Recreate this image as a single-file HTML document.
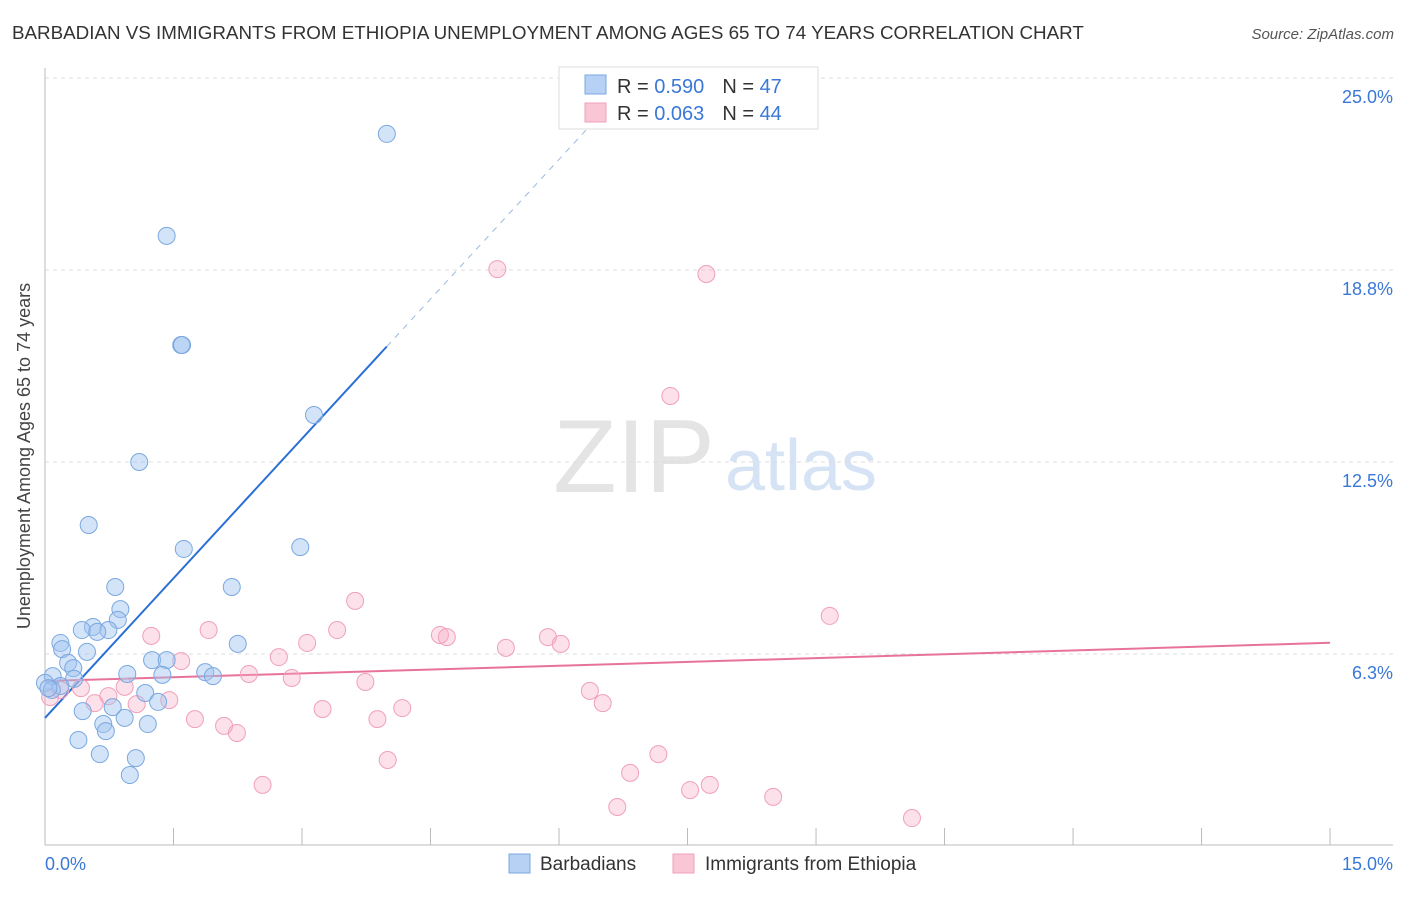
<!DOCTYPE html>
<html><head><meta charset="utf-8"><style>
body{margin:0;background:#fff;font-family:"Liberation Sans",sans-serif;}
svg text{font-family:"Liberation Sans",sans-serif;}
</style></head><body>
<svg id="chart" width="1406" height="892" xmlns="http://www.w3.org/2000/svg">
<text x="12" y="39" font-size="18.8" fill="#333">BARBADIAN VS IMMIGRANTS FROM ETHIOPIA UNEMPLOYMENT AMONG AGES 65 TO 74 YEARS CORRELATION CHART</text>
<text x="1394" y="39" font-size="15" fill="#555" font-style="italic" text-anchor="end">Source: ZipAtlas.com</text>
<text x="30" y="456" font-size="18" fill="#444" text-anchor="middle" transform="rotate(-90 30 456)">Unemployment Among Ages 65 to 74 years</text>
<g><text x="634" y="492" font-size="104" fill="#e4e4e4" font-family="Liberation Serif" text-anchor="middle">ZIP</text><text x="801" y="490" font-size="72" fill="#d6e3f5" text-anchor="middle">atlas</text></g>
<g id="grid"></g><g id="axes"></g><g id="lines"></g><g id="pts"></g>
<g>
<rect x="559" y="67" width="259" height="62" fill="#fff" stroke="#ddd"/>
<rect x="585" y="75" width="21" height="19" fill="#b7d1f5" stroke="#7aa8e0"/>
<rect x="585" y="103" width="21" height="19" fill="#f9c6d5" stroke="#f0a0b8"/>
<text x="617" y="93" font-size="20" fill="#333">R = <tspan fill="#3a78d8">0.590</tspan><tspan dx="18">N = </tspan><tspan fill="#3a78d8">47</tspan></text>
<text x="617" y="120" font-size="20" fill="#333">R = <tspan fill="#3a78d8">0.063</tspan><tspan dx="18">N = </tspan><tspan fill="#3a78d8">44</tspan></text>
</g>
<g>
<rect x="509" y="854" width="21" height="19" fill="#b7d1f5" stroke="#7aa8e0"/>
<text x="540" y="870" font-size="19" fill="#333">Barbadians</text>
<rect x="673" y="854" width="21" height="19" fill="#f9c6d5" stroke="#f0a0b8"/>
<text x="705" y="870" font-size="19" fill="#333">Immigrants from Ethiopia</text>
</g>
</svg>
<script>
const yTicks=[25,18.75,12.5,6.25];
const yTickLabels=["25.0%","18.8%","12.5%","6.3%"];
const xTickValues=[0,1.5,3,4.5,6,7.5,9,10.5,12,13.5,15];
const xEndLabels=["0.0%","15.0%"];
const blueX=[3.99,1.42,1.59,1.60,3.14,1.10,0.51,1.62,2.98,0.82,2.18,0.88,0.56,0.85,0.74,0.43,0.61,0.18,2.25,0.20,0.49,0.27,1.25,1.42,0.33,1.87,1.96,0.96,1.37,0.09,0.34,0,0.18,0.08,1.17,0.79,1.32,0.44,0.93,0.68,1.20,0.71,0.39,1.06,0.64,0.99,0.04];
const blueY=[23.18,19.86,16.31,16.31,14.03,12.5,10.45,9.67,9.73,8.43,8.43,7.71,7.13,7.36,7.03,7.03,6.97,6.61,6.58,6.41,6.32,5.96,6.05,6.05,5.79,5.66,5.53,5.60,5.57,5.53,5.44,5.31,5.21,5.08,4.98,4.52,4.69,4.39,4.17,3.97,3.97,3.74,3.45,2.86,2.99,2.31,5.14];
const pinkX=[5.28,7.72,7.30,3.62,9.16,1.24,1.91,3.41,4.61,4.69,5.87,6.02,3.06,5.38,2.73,1.59,2.38,2.88,3.74,6.36,0.42,0.93,0.74,1.45,1.07,0.58,6.51,3.24,4.17,1.75,3.88,2.09,2.24,7.16,4.00,6.83,2.54,7.76,7.53,8.50,6.68,10.12,0.06,0.18];
const pinkY=[18.78,18.62,14.65,7.98,7.49,6.84,7.03,7.03,6.87,6.80,6.80,6.58,6.61,6.45,6.15,6.02,5.60,5.47,5.34,5.05,5.14,5.18,4.88,4.75,4.62,4.65,4.65,4.46,4.49,4.13,4.13,3.91,3.68,2.99,2.80,2.38,1.99,1.99,1.82,1.60,1.27,0.91,4.85,5.08];
const blueTrend=[4.17,3.03];
const pinkTrend=[5.37,0.083];
const blueSolidEnd=3.99, blueDashEnd=6.9;
const NS="http://www.w3.org/2000/svg";
const X=v=>45+v*85.67, Y=v=>846-v*30.72;
function mk(tag,attrs,parent){const e=document.createElementNS(NS,tag);for(const k in attrs)e.setAttribute(k,attrs[k]);document.getElementById(parent).appendChild(e);return e;}
const g0=mk('line',{x1:45,x2:1393,y1:78,y2:78,stroke:'#ddd','stroke-dasharray':'4 4'},'grid');


yTicks.forEach((t,i)=>{
 const l=mk('line',{x1:45,x2:1393,y1:Y(t),y2:Y(t),stroke:'#ddd','stroke-dasharray':'4 4'},'grid');
 
 
 const tx=mk('text',{x:1393,y:Y(t)+25,'font-size':18,fill:'#3a78d8','text-anchor':'end'},'grid');
 tx.textContent=yTickLabels[i];
 
 
});
const ax=mk('line',{x1:45,x2:1393,y1:845,y2:845,stroke:'#bbb'},'axes');


const ay=mk('line',{x1:45,x2:45,y1:68,y2:845,stroke:'#bbb'},'axes');


xTickValues.forEach(v=>{
 const t=mk('line',{x1:X(v),x2:X(v),y1:828,y2:845,stroke:'#bbb'},'axes');
 
 
});
const xl0=mk('text',{x:45,y:870,'font-size':18,fill:'#3a78d8'},'axes');xl0.textContent=xEndLabels[0];


const xl1=mk('text',{x:1393,y:870,'font-size':18,fill:'#3a78d8','text-anchor':'end'},'axes');xl1.textContent=xEndLabels[1];


pinkX.forEach((x,i)=>{
 const c=mk('circle',{cx:X(x),cy:Y(pinkY[i]),r:8.5,fill:'rgba(245,170,195,0.35)',stroke:'#f0a0b8','stroke-width':1},'pts');
 
 
});
blueX.forEach((x,i)=>{
 const c=mk('circle',{cx:X(x),cy:Y(blueY[i]),r:8.5,fill:'rgba(160,196,240,0.45)',stroke:'#7aa8e0','stroke-width':1},'pts');
 
 
});
const b1=mk('line',{x1:X(0),y1:Y(blueTrend[0]),x2:X(blueSolidEnd),y2:Y(blueTrend[0]+blueTrend[1]*blueSolidEnd),stroke:'#2a6fd6','stroke-width':2},'lines');


const b2=mk('line',{x1:X(blueSolidEnd),y1:Y(blueTrend[0]+blueTrend[1]*blueSolidEnd),x2:X(blueDashEnd),y2:Y(blueTrend[0]+blueTrend[1]*blueDashEnd),stroke:'#9bb8e0','stroke-width':1,'stroke-dasharray':'6 6'},'lines');


const p1=mk('line',{x1:X(0),y1:Y(pinkTrend[0]),x2:X(15),y2:Y(pinkTrend[0]+pinkTrend[1]*15),stroke:'#e8739a','stroke-width':2},'lines');


</script>
</body></html>
